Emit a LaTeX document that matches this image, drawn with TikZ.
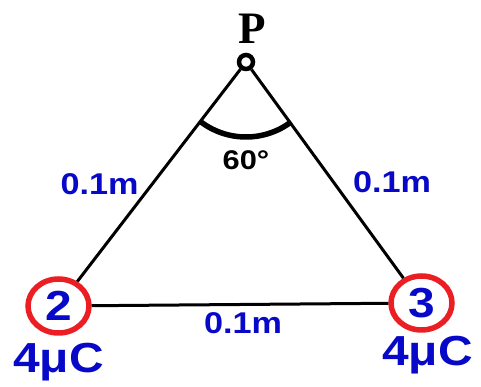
\documentclass[tikz,border=0pt]{standalone}
\usepackage{fontspec}
\setmainfont{Liberation Serif}
\newfontfamily\lblfont[FakeStretch=1.14]{Liberation Sans}
\usetikzlibrary{positioning,shapes.geometric}
\definecolor{chargeblue}{RGB}{8,8,200}
\definecolor{chargered}{RGB}{235,30,35}

\begin{document}
\begin{tikzpicture}[
  x=1pt, y=1pt,
  charge/.style={draw=chargered, line width=5.5pt, ellipse, inner sep=0pt, minimum width=61pt, minimum height=54pt, text=chargeblue, font=\lblfont\bfseries\fontsize{42}{42}\selectfont},
  dist/.style={text=chargeblue, font=\lblfont\bfseries\fontsize{30}{30}\selectfont, anchor=base},
  qlbl/.style={text=chargeblue, font=\lblfont\bfseries\fontsize{42}{42}\selectfont},
  side/.style={line width=3pt}
]
\useasboundingbox (0,0) rectangle (481,387);
\node[circle, draw, line width=4.5pt, minimum size=14pt, inner sep=0pt] (P) at (246,325) {};
\node[font=\bfseries\fontsize{45}{45}\selectfont, above=6pt of P, xshift=6pt] (Plbl) {P};
\node[charge] (c2) at (58.5,81) {2};
\node[charge] (c3) at (421.5,84) {3};
\draw[side] (P) -- (c2);
\draw[side] (P) -- (c3);
\draw[side] (c2) -- (c3);
\draw[line width=5.5pt] ([shift={(232:75)}]P.center) arc[start angle=232, end angle=307, radius=75];
\node[dist, text=black, font=\lblfont\bfseries\fontsize{27}{27}\selectfont] (ang) at (246,217) {60°};
\node[dist] (d12) at (99.5,192) {0.1m};
\node[dist] (d13) at (392,194) {0.1m};
\node[dist] (d23) at (243,53) {0.1m};
\node[qlbl, below=4pt of c2] (q2) {4μC};
\node[qlbl, below=0pt of c3, xshift=6pt] (q3) {4μC};
\end{tikzpicture}
\end{document}
